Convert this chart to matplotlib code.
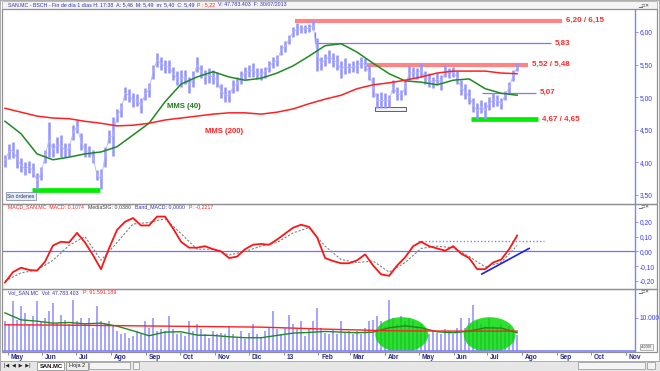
import numpy as np
import pandas as pd
import matplotlib
matplotlib.use('Agg')
import matplotlib.pyplot as plt
import matplotlib.dates as mdates
from matplotlib.patches import Ellipse, Rectangle

plt.rcParams['font.family'] = ['Liberation Sans', 'DejaVu Sans']

# readings taken every ~3.5 calendar days, starting end of April 2012
start = pd.Timestamp('2012-04-28 18:00')
step = pd.Timedelta(hours=85.25)

# price range (high / low) per reading, EUR
high = [4.12, 4.28, 4.31, 4.20, 4.06, 4.00, 4.02, 3.99, 3.84, 3.93,
        4.19, 4.62, 4.30, 4.39, 4.42, 4.30, 4.30, 4.57, 4.65, 4.45,
        4.30, 4.25, 4.19, 3.88, 3.90, 4.24, 4.50, 4.70, 4.82, 4.91,
        5.16, 5.13, 5.06, 5.05, 4.98, 5.14, 5.22, 5.50, 5.68, 5.62,
        5.57, 5.57, 5.46, 5.40, 5.42, 5.42, 5.31, 5.40, 5.62, 5.50,
        5.42, 5.45, 5.42, 5.38, 5.20, 5.15, 5.11, 5.26, 5.31, 5.40,
        5.46, 5.49, 5.52, 5.45, 5.45, 5.47, 5.55, 5.62, 5.64, 5.80,
        5.86, 5.95, 6.08, 6.14, 6.11, 6.10, 6.12, 6.18, 5.90, 5.62,
        5.66, 5.72, 5.68, 5.64, 5.55, 5.60, 5.52, 5.55, 5.57, 5.62,
        5.60, 5.50, 5.31, 5.06, 5.08, 5.06, 5.04, 5.26, 5.15, 5.11,
        5.26, 5.48, 5.46, 5.45, 5.52, 5.40, 5.37, 5.31, 5.37, 5.34,
        5.49, 5.45, 5.46, 5.40, 5.26, 5.20, 5.12, 4.98, 4.91, 4.95,
        4.93, 5.00, 5.06, 5.04, 4.98, 5.10, 5.23, 5.42, 5.52]
low = [3.93, 4.05, 4.06, 3.92, 3.85, 3.80, 3.84, 3.77, 3.59, 3.73,
       3.99, 4.08, 4.08, 4.14, 4.08, 4.08, 4.10, 4.34, 4.45, 4.19,
       4.08, 4.08, 3.99, 3.73, 3.59, 3.93, 4.30, 4.10, 4.62, 4.70,
       4.96, 4.92, 4.85, 4.86, 4.76, 4.96, 5.00, 5.28, 5.46, 5.42,
       5.37, 5.37, 5.26, 5.19, 5.16, 5.20, 5.06, 5.15, 5.38, 5.30,
       5.20, 5.22, 5.20, 5.15, 4.98, 4.93, 4.93, 5.06, 5.09, 5.20,
       5.28, 5.31, 5.31, 5.28, 5.26, 5.30, 5.38, 5.45, 5.48, 5.65,
       5.70, 5.82, 5.92, 5.95, 5.98, 5.99, 6.00, 6.03, 5.40, 5.42,
       5.48, 5.52, 5.47, 5.42, 5.30, 5.35, 5.37, 5.38, 5.37, 5.45,
       5.40, 5.26, 5.00, 4.83, 4.83, 4.83, 4.85, 5.06, 4.96, 4.96,
       5.03, 5.26, 5.30, 5.28, 5.31, 5.20, 5.16, 5.14, 5.18, 5.11,
       5.31, 5.30, 5.31, 5.20, 5.03, 4.97, 4.90, 4.78, 4.67, 4.75,
       4.67, 4.80, 4.85, 4.86, 4.82, 4.96, 5.06, 5.25, 5.40]

# volume per reading, millions of shares
volume = [90, 80, 150, 95, 135, 115, 80, 105, 150, 90,
          100, 120, 145, 85, 110, 95, 80, 155, 90, 100,
          80, 100, 70, 135, 90, 85, 90, 75, 60, 50,
          55, 40, 45, 60, 50, 90, 70, 100, 60, 65,
          60, 105, 65, 50, 55, 45, 90, 60, 80, 65,
          50, 40, 60, 50, 55, 50, 75, 50, 40, 60,
          35, 55, 80, 50, 40, 60, 70, 120, 65, 50,
          70, 110, 80, 65, 90, 45, 70, 90, 130, 70,
          55, 50, 65, 50, 90, 55, 60, 50, 60, 50,
          70, 90, 95, 105, 90, 75, 155, 100, 80, 105,
          90, 100, 90, 75, 80, 70, 50, 60, 55, 50,
          65, 60, 50, 70, 100, 70, 100, 140, 90, 80,
          75, 100, 75, 70, 80, 70, 75, 65, 48]

# moving averages, one value every 4th reading
mms40 = [4.63, 4.44, 4.13, 4.04, 4.08, 4.13, 4.16, 4.24, 4.42, 4.60,
         4.93, 5.20, 5.31, 5.39, 5.31, 5.26, 5.29, 5.37, 5.48, 5.63,
         5.79, 5.82, 5.69, 5.52, 5.36, 5.25, 5.23, 5.19, 5.26, 5.28,
         5.13, 5.06, 5.03]
mms200 = [4.83, 4.77, 4.71, 4.68, 4.67, 4.63, 4.60, 4.56, 4.57, 4.60,
          4.65, 4.68, 4.71, 4.74, 4.76, 4.76, 4.74, 4.77, 4.82, 4.90,
          4.97, 5.03, 5.13, 5.19, 5.22, 5.26, 5.31, 5.37, 5.40, 5.40,
          5.40, 5.37, 5.36]
vol_ma_short = [115, 94, 90, 84, 86, 82, 84, 75, 61, 46,
                57, 58, 48, 47, 43, 40, 40, 47, 54, 56,
                59, 57, 55, 57, 70, 76, 70, 58, 55, 60,
                70, 69, 55]
# one value every 16th reading
vol_ma_long = [79, 78, 76, 74, 72, 66, 61, 60, 60]

# MACD, one value every 2nd reading; signal every 4th reading
macd = [-0.21, -0.14, -0.11, -0.125, -0.13, -0.07, 0.04, 0.065, 0.06, 0.125,
        0.06, -0.025, -0.12, 0.02, 0.145, 0.20, 0.225, 0.175, 0.175, 0.235,
        0.235, 0.155, 0.065, 0.025, 0.025, 0.035, 0.015, 0.0, -0.045, -0.035,
        0.015, 0.045, 0.05, 0.045, 0.08, 0.12, 0.16, 0.18, 0.165, 0.095,
        -0.045, -0.065, -0.08, -0.08, -0.06, -0.02, -0.095, -0.155, -0.165, -0.095,
        -0.04, 0.035, 0.065, 0.035, 0.02, 0.005, 0.035, -0.015, -0.045, -0.12,
        -0.12, -0.075, -0.055, 0.015, 0.107]
macd_sig = [-0.20, -0.145, -0.125, -0.06, 0.04, 0.10, -0.06, 0.06, 0.185, 0.195,
            0.22, 0.12, 0.015, 0.015, -0.025, 0.0, 0.035, 0.06, 0.125, 0.16,
            0.035, -0.055, -0.075, -0.065, -0.14, -0.075, 0.02, 0.035, 0.025, -0.035,
            -0.105, -0.075, 0.04]

# drawn support / resistance levels
level_val = [6.175, 5.83, 5.50, 5.07, 4.66, 3.58]
level_start = ['2013-01-11', '2013-01-29', '2013-03-16', '2013-06-26', '2013-06-16', '2012-05-23']
level_end = ['2013-09-05', '2013-08-26', '2013-08-06', '2013-08-13', '2013-08-15', '2012-07-22']
level_kind = ['res', 'line', 'res', 'line', 'sup', 'sup']
level_text = ['6,20 / 6,15', '5,83', '5,52 / 5,48', '5,07', '4,67 / 4,65', '']

# volume highlights (centre date, width in days)
ell_center = ['2013-04-16', '2013-07-03']
ell_width = [47, 46]

months = pd.date_range('2012-05-01', '2013-11-01', freq='MS')
month_labels = ['May', 'Jun', 'Jul', 'Ago', 'Sep', 'Oct', 'Nov', 'Dic', '13', 'Feb',
                'Mar', 'Abr', 'May', 'Jun', 'Jul', 'Ago', 'Sep', 'Oct', 'Nov']

d_price = pd.date_range(start, periods=len(high), freq=step)
d_vol = pd.date_range(start, periods=len(volume), freq=step)
d_ma = pd.date_range(start, periods=len(mms40), freq=step * 4)
d_vlong = pd.date_range(start, periods=len(vol_ma_long), freq=step * 16)
d_macd = pd.date_range(start, periods=len(macd), freq=step * 2)
d_sig = pd.date_range(start, periods=len(macd_sig), freq=step * 4)

W, H = 660, 371
fig = plt.figure(figsize=(W / 100, H / 100), dpi=100)


def box(x0, y0, x1, y1):
    return [x0 / W, 1 - y1 / H, (x1 - x0) / W, (y1 - y0) / H]


def frame(x0, y0, x1, y1, **kw):
    fig.add_artist(Rectangle((x0 / W, 1 - y1 / H), (x1 - x0) / W, (y1 - y0) / H,
                             transform=fig.transFigure, **kw))


def ftext(x, y, s, **kw):
    return fig.text(x / W, 1 - y / H, s, va='center', **kw)


# window furniture
frame(0, 0, 660, 371, fc='white', ec='#a0a0a0', lw=1.2, zorder=-5)
frame(2, 1, 657, 9, fc='#f4f4f4', ec='#b0b0b0', lw=0.6, zorder=-4)
frame(2, 9, 657, 204, fill=False, ec='#909090', lw=0.9)
frame(2, 204, 657, 289, fill=False, ec='#909090', lw=0.9)
frame(2, 289, 657, 352, fill=False, ec='#909090', lw=0.9)
frame(0, 361, 660, 371, fc='#e6e6e6', ec='#a0a0a0', lw=0.6)

ax_p = fig.add_axes(box(3, 10, 635, 203))
ax_m = fig.add_axes(box(3, 205, 635, 288))
ax_v = fig.add_axes(box(3, 290, 635, 351))

xmin, xmax = pd.Timestamp('2012-04-27'), pd.Timestamp('2013-11-09')
blue_txt = '#3838f0'
for ax in (ax_p, ax_m, ax_v):
    ax.set_xlim(xmin, xmax)
    ax.set_facecolor('white')
    for s in ('left', 'top', 'bottom'):
        ax.spines[s].set_visible(False)
    ax.spines['right'].set_color('#8080ff')
    ax.spines['right'].set_linewidth(1.0)
    ax.yaxis.tick_right()
    ax.tick_params(axis='y', labelsize=4.8, labelcolor=blue_txt, color='#8080ff',
                   length=2, width=0.6, pad=1.2)
    ax.tick_params(axis='x', bottom=False, labelbottom=False)


def comma(fmt):
    return lambda v, pos: format(v, fmt).replace('.', ',')


# ---- price panel ----
for v, s, e, k, t in zip(level_val, level_start, level_end, level_kind, level_text):
    s, e = pd.Timestamp(s), pd.Timestamp(e)
    if k == 'res':
        ax_p.hlines(v, s, e, color='#ff8484', lw=3.0, zorder=1.5)
    elif k == 'sup':
        ax_p.hlines(v, s, e, color='#00ee00', lw=3.4, zorder=1.5)
    else:
        ax_p.hlines(v, s, e, color='#7878ff', lw=0.9, zorder=1.5)
    if t:
        ax_p.annotate(t, (e, v), xytext=(3, 0), textcoords='offset points',
                      color='#ff2a2a', fontsize=5.8, fontweight='bold', va='center')
ax_p.vlines(pd.Timestamp(level_start[1]), level_val[1], 6.0, color='#7878ff', lw=0.9)
ax_p.add_patch(Rectangle((mdates.date2num(pd.Timestamp('2013-03-23')), 4.79), 28, 0.06,
                         fc='#f2f2f2', ec='#606060', lw=0.7, zorder=1.6))

ax_p.vlines(d_price, low, high, color='#9494ff', lw=1.8, zorder=2)
ax_p.plot(d_price, [(h + l) / 2 for h, l in zip(high, low)], color='#b4b4ff', lw=0.6, zorder=2)
ax_p.plot(d_ma, mms40, color='#1f8a1f', lw=1.1, zorder=3)
ax_p.plot(d_ma, mms200, color='#ff2020', lw=1.1, zorder=3)
ax_p.text(pd.Timestamp('2012-09-20'), 4.85, 'MMS (40)', color='#1f7a1f',
          fontsize=5.6, fontweight='bold', va='center')
ax_p.text(pd.Timestamp('2012-10-23'), 4.47, 'MMS (200)', color='#ff2020',
          fontsize=5.6, fontweight='bold', va='center')
ax_p.text(0.007, 0.035, 'Sin órdenes', transform=ax_p.transAxes, fontsize=3.6,
          color='#303050', va='center',
          bbox=dict(boxstyle='square,pad=0.25', fc='#e4ecf4', ec='#7080a0', lw=0.5))

ax_p.set_ylim(3.377, 6.337)
ax_p.set_yticks([3.5, 4.0, 4.5, 5.0, 5.5, 6.0])
ax_p.yaxis.set_major_formatter(comma('.2f'))

# ---- MACD panel ----
ax_m.axhline(0, color='#7070ff', lw=0.9, zorder=1)
ax_m.hlines(0.067, pd.Timestamp('2013-04-30'), pd.Timestamp('2013-08-20'),
            color='#8080ff', lw=1.0, ls=(0, (1, 1.5)), zorder=1)
ax_m.plot(d_sig, macd_sig, color='#808080', lw=0.8, ls=(0, (2, 1.5)), zorder=2)
ax_m.plot(d_macd, macd, color='#ff1414', lw=1.3, zorder=3)
ax_m.plot(pd.to_datetime(['2013-06-26', '2013-08-07']), [-0.153, 0.02],
          color='#2020e0', lw=1.2, zorder=3)
ax_m.set_ylim(-0.247, 0.313)
ax_m.set_yticks([-0.2, -0.1, 0.0, 0.1, 0.2])
ax_m.yaxis.set_major_formatter(comma('.2f'))

# ---- volume panel ----
ax_v.bar(d_vol, volume, width=2.2, color='#a6a6ff', lw=0, zorder=1)
for c, w in zip(ell_center, ell_width):
    ax_v.add_patch(Ellipse((mdates.date2num(pd.Timestamp(c)), 49), w, 106,
                           fc='#00d800', ec='none', alpha=0.82, zorder=2))
ax_v.plot(d_ma, vol_ma_short, color='#1f8a1f', lw=1.0, zorder=3)
ax_v.plot(d_vlong, vol_ma_long, color='#ff2020', lw=1.0, zorder=3)
ax_v.set_ylim(0, 184)
ax_v.set_yticks([100])
ax_v.set_yticklabels(['10.000'])
ax_v.spines['bottom'].set_visible(True)
ax_v.spines['bottom'].set_color('#8080ff')
ax_v.spines['bottom'].set_linewidth(1.2)
ax_v.set_xticks(months)
ax_v.tick_params(axis='x', bottom=True, labelbottom=False, length=3, color='#8080ff', width=0.7)
for m, lbl in zip(months, month_labels):
    ax_v.annotate(lbl, (m, 0), xycoords=('data', 'axes fraction'), xytext=(2, -2.5),
                  textcoords='offset points', ha='left', va='top', fontsize=4.8,
                  fontweight='bold', color='#2a2a8a', annotation_clip=False)
ftext(641, 347, 'x10000', fontsize=2.4, color='#404040',
      bbox=dict(boxstyle='square,pad=0.2', fc='#f0f0f0', ec='#808080', lw=0.4))

# ---- panel headers ----
t1 = ftext(8, 5, 'SAN.MC - BSCH - Fin de día 1 días H: 17:38  A: 5,46  M: 5,49  m: 5,40  C: 5,49',
           color='#3030c0', fontsize=3.8)
t2 = ax_p.annotate('P : 5,22', (1, 0.5), xycoords=t1, xytext=(2, 0), textcoords='offset points',
                   color='#ff2020', fontsize=3.8, va='center')
ax_p.annotate('V: 47.783.403  F: 30/07/2013', (1, 0.5), xycoords=t2, xytext=(2, 0),
              textcoords='offset points', color='#3030c0', fontsize=3.8, va='center')

m1 = ftext(8, 207, 'MACD_SAN.MC  MACD: 0,1074', color='#ff2020', fontsize=3.8)
m2 = ax_m.annotate('MediaSIG: 0,0380', (1, 0.5), xycoords=m1, xytext=(3, 0),
                   textcoords='offset points', color='#404040', fontsize=3.8, va='center')
m3 = ax_m.annotate('Band_MACD: 0,0000', (1, 0.5), xycoords=m2, xytext=(3, 0),
                   textcoords='offset points', color='#3030c0', fontsize=3.8, va='center')
ax_m.annotate('P: -0,2217', (1, 0.5), xycoords=m3, xytext=(3, 0),
              textcoords='offset points', color='#ff2020', fontsize=3.8, va='center')

v1 = ftext(8, 293, 'Vol_SAN.MC  Vol: 47.783.403', color='#3030c0', fontsize=3.8)
ax_v.annotate('P: 91.591.189', (1, 0.5), xycoords=v1, xytext=(3, 0),
              textcoords='offset points', color='#ff2020', fontsize=3.8, va='center')

# window buttons at the top right of each panel
for y in (5, 207, 292):
    ftext(638, y, '\u2581\u25a1\u2715', fontsize=3.6, color='#404040')

# sheet tabs and navigation
ftext(4, 366, '|\u25c0  \u25c0  \u25b6  \u25b6|', fontsize=3.6, color='#202020')
frame(37, 362, 64, 370, fc='white', ec='#808080', lw=0.5)
ftext(40, 366, 'SAN.MC', fontsize=4.2, fontweight='bold', color='#101010')
frame(66, 362, 88, 370, fc='#eeeeee', ec='#808080', lw=0.5)
ftext(69, 366, 'Hoja 2', fontsize=4.0, color='#202020')
frame(89, 362, 130, 369, fc='#f4f4f4', ec='#909090', lw=0.5)
frame(133, 362, 139, 369, fc='#f4f4f4', ec='#909090', lw=0.5)
frame(578, 362, 645, 369, fc='#f4f4f4', ec='#909090', lw=0.5)
frame(647, 362, 655, 369, fc='#f4f4f4', ec='#909090', lw=0.5)

fig.savefig('out.png', dpi=100)
